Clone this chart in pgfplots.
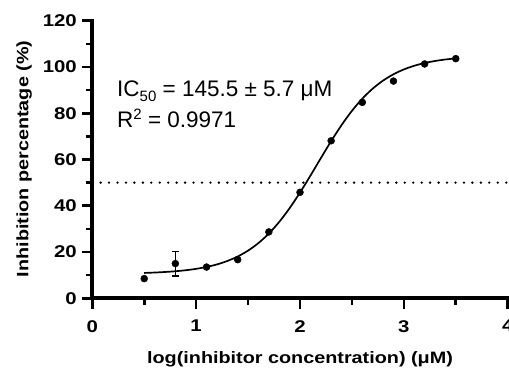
\documentclass[border=0pt]{standalone}
\usepackage{fontspec}
\setmainfont{Liberation Sans}
\newfontfamily\labfont[FakeStretch=1.2]{Liberation Sans}
\usepackage{graphicx}
\usepackage{pgfplots}
\pgfplotsset{compat=1.18}
\begin{document}
\begin{tikzpicture}
\begin{axis}[
  name=ax,
  scale only axis,
  width=415.4pt, height=277.6pt,
  xmin=0, xmax=4, ymin=0, ymax=120,
  axis lines*=left,
  axis line style={draw=none},
  xtick={0,1,2,3,4},
  ytick={0,20,40,60,80,100,120},
  major tick length=0pt, minor tick length=0pt,
  /pgf/number format/assume math mode=true,
  tick label style={font=\labfont\bfseries\fontsize{17}{20}\selectfont, inner sep=0pt},
  xticklabel style={anchor=north, yshift=-21.7pt},
  yticklabel style={anchor=east, xshift=-15.3pt},
  xlabel={log(inhibitor concentration) (μM)},
  ylabel={\scalebox{1.2}[1]{Inhibition percentage (\%)}},
  xlabel style={font=\labfont\bfseries\fontsize{16.5}{19}\selectfont, inner sep=0pt,
    at={(axis description cs:0.5,-0.2331)}, anchor=base},
  ylabel style={font=\bfseries\fontsize{16.5}{19}\selectfont, inner sep=0pt,
    at={(axis description cs:-0.1536,0.502)}, anchor=base},
  clip=false,
]
% dotted 50% line
\addplot[black, line width=2.6pt, line cap=round, dash pattern=on 0pt off 8.45pt]
  coordinates {(0.08,50) (4,50)};
% fitted curve
\addplot[black, line width=1.7pt, smooth] coordinates {
(0.5,10.96) (0.6,11.13) (0.7,11.37) (0.8,11.69) (0.9,12.13) (1.0,12.73)
(1.1,13.55) (1.2,14.64) (1.3,16.12) (1.4,18.06) (1.5,20.61) (1.6,23.88)
(1.7,27.99) (1.8,33.02) (1.9,38.96) (2.0,45.70) (2.1,52.99) (2.2,60.54)
(2.3,67.94) (2.4,74.86) (2.5,81.02) (2.6,86.29) (2.7,90.63) (2.8,94.11)
(2.9,96.84) (3.0,98.93) (3.1,100.52) (3.2,101.70) (3.3,102.58) (3.4,103.23)
(3.5,103.71)};
% error bar point
\addplot[black, only marks, mark=*, mark size=3.5pt,
  error bars/.cd, y dir=both, y explicit,
  error bar style={line width=1.4pt},
  error mark options={rotate=90, mark size=3.2pt, line width=1.4pt}]
  coordinates {(0.8,15.0) += (0,5.3) -= (0,5.4)};
% data points
\addplot[black, only marks, mark=*, mark size=3.5pt] coordinates {
(0.5,8.5) (1.1,13.5) (1.4,16.7) (1.7,28.7) (2.0,45.8) (2.3,68.1)
(2.6,84.7) (2.9,93.9) (3.2,101.3) (3.5,103.6)};
% axis frame (left and bottom) with outward ticks
\draw[black, line width=3.6pt, line cap=rect] (axis cs:0,120) -- (axis cs:0,0) -- (axis cs:4,0);
\pgfplotsinvokeforeach{0,1,2,3,4}{
  \draw[black, line width=2.6pt] (axis cs:#1,0) -- ++(0pt,-10.7pt);}
\pgfplotsinvokeforeach{0.5,1.5,2.5,3.5}{
  \draw[black, line width=2.6pt] (axis cs:#1,0) -- ++(0pt,-6.6pt);}
\pgfplotsinvokeforeach{0,20,40,60,80,100,120}{
  \draw[black, line width=2.6pt] (axis cs:0,#1) -- ++(-10.7pt,0pt);}
\pgfplotsinvokeforeach{10,30,50,70,90,110}{
  \draw[black, line width=2.6pt] (axis cs:0,#1) -- ++(-6.6pt,0pt);}
\node[anchor=base west, inner sep=0pt, font=\fontsize{22.5}{26}\selectfont]
  at (axis cs:0.238,87.2) {IC{\fontsize{15}{15}\selectfont\raisebox{-4.5pt}{50}} = 145.5 ± 5.7 μM};
\node[anchor=base west, inner sep=0pt, font=\fontsize{22.5}{26}\selectfont]
  at (axis cs:0.238,73.8) {R{\fontsize{15}{15}\selectfont\raisebox{8pt}{2}} = 0.9971};
\end{axis}
\pgfresetboundingbox
\path (ax.south west) ++(-92.3pt,-72.7pt) rectangle ++(509pt,371pt);
\end{tikzpicture}
\end{document}
